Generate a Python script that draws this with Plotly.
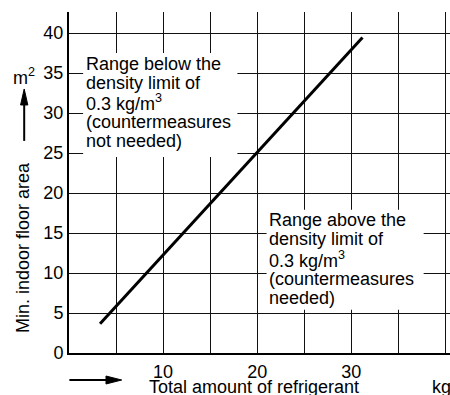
import plotly.graph_objects as go

# Minimum floor area vs. total refrigerant charge (0.3 kg/m3 limit line)
refrigerant_kg = [3.3, 31.2]
floor_area_m2 = [3.65, 39.45]

x_ticks = [10, 20, 30]
y_ticks = [0, 5, 10, 15, 20, 25, 30, 35, 40]

below_lines = ["Range below the", "density limit of", "0.3 kg/m<sup>3</sup>",
               "(countermeasures", "not needed)"]
above_lines = ["Range above the", "density limit of", "0.3 kg/m<sup>3</sup>",
               "(countermeasures", "needed)"]

FONT = "Liberation Sans, Arial, sans-serif"
INK = "#000000"
GRID = "#111111"

fig = go.Figure()
fig.add_trace(go.Scatter(
    x=refrigerant_kg, y=floor_area_m2, mode="lines",
    line=dict(color=INK, width=3), hoverinfo="skip", showlegend=False,
))

shapes = [
    # white panels behind the two region descriptions
    dict(type="rect", xref="x", yref="y", x0=1.5, x1=17.9, y0=24.5, y1=37.5,
         fillcolor="white", line=dict(width=0), layer="above"),
    dict(type="rect", xref="x", yref="y", x0=21.0, x1=37.7, y0=5.4, y1=17.9,
         fillcolor="white", line=dict(width=0), layer="above"),
    # direction arrow under the x axis
    dict(type="line", xref="paper", yref="paper", x0=0.001, x1=0.1, y0=-0.0792, y1=-0.0792,
         line=dict(color=INK, width=2)),
    dict(type="path", xref="paper", yref="paper",
         path="M 0.0971 -0.0675 L 0.1383 -0.0792 L 0.0971 -0.0909 Z",
         fillcolor=INK, line=dict(color=INK, width=1)),
    # direction arrow beside the y axis
    dict(type="line", xref="paper", yref="paper", x0=-0.1176, x1=-0.1176, y0=0.622, y1=0.73,
         line=dict(color=INK, width=2)),
    dict(type="path", xref="paper", yref="paper",
         path="M -0.1271 0.7273 L -0.1176 0.7742 L -0.1081 0.7273 Z",
         fillcolor=INK, line=dict(color=INK, width=1)),
]

annotations = []
for i, t in enumerate(below_lines):
    annotations.append(dict(x=1.7, y=36.1 - 2.4 * i, xref="x", yref="y",
                            text=t, showarrow=False, xanchor="left",
                            yanchor="middle", borderpad=0,
                            font=dict(family=FONT, size=18, color=INK)))
for i, t in enumerate(above_lines):
    annotations.append(dict(x=21.2, y=16.64 - 2.45 * i, xref="x", yref="y",
                            text=t, showarrow=False, xanchor="left",
                            yanchor="middle", borderpad=0,
                            font=dict(family=FONT, size=18, color=INK)))

# axis titles and unit labels
annotations += [
    dict(x=-0.119, y=0.31, xref="paper", yref="paper", text="Min. indoor floor area",
         textangle=-90, showarrow=False, xanchor="center", yanchor="middle",
         font=dict(family=FONT, size=18, color=INK)),
    dict(x=-0.118, y=0.81, xref="paper", yref="paper", text="m<sup>2</sup>",
         showarrow=False, xanchor="center", yanchor="middle",
         font=dict(family=FONT, size=18, color=INK)),
    dict(x=0.204, y=-0.1, xref="paper", yref="paper", text="Total amount of refrigerant",
         showarrow=False, xanchor="left", yanchor="middle",
         font=dict(family=FONT, size=18, color=INK)),
    dict(x=0.9475, y=-0.1, xref="paper", yref="paper", text="kg",
         showarrow=False, xanchor="left", yanchor="middle",
         font=dict(family=FONT, size=18, color=INK)),
]

fig.update_layout(
    width=450, height=395,
    margin=dict(l=69, r=0, t=12, b=42),
    paper_bgcolor="white", plot_bgcolor="white",
    font=dict(family=FONT, size=18, color=INK),
    annotations=annotations, shapes=shapes,
    showlegend=False,
)
fig.update_xaxes(
    range=[0, 40.5], tickvals=x_ticks,
    showgrid=True, gridcolor=GRID, gridwidth=1.3,
    minor=dict(dtick=5, tick0=0, showgrid=True, gridcolor=GRID, gridwidth=1.3, ticks=""),
    showline=True, linecolor=INK, linewidth=2, zeroline=False,
    ticks="", ticklabelstandoff=1,
    tickfont=dict(family=FONT, size=18, color=INK),
    fixedrange=True,
)
fig.update_yaxes(
    range=[0, 42.625], tickvals=y_ticks,
    showgrid=True, gridcolor=GRID, gridwidth=1.3,
    showline=True, linecolor=INK, linewidth=2, zeroline=False,
    ticks="", tickfont=dict(family=FONT, size=18, color=INK),
    fixedrange=True,
)

fig.write_html("out.html", config={"displayModeBar": False})
